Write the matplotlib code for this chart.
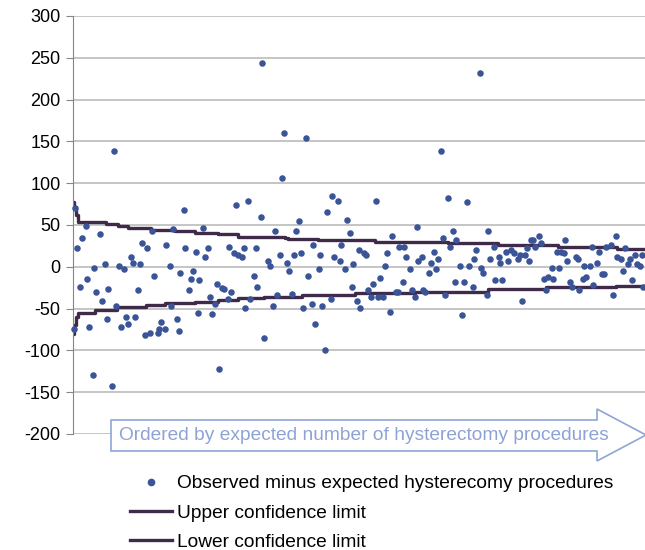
import matplotlib
matplotlib.use("Agg")
import matplotlib.pyplot as plt
from matplotlib.patches import Polygon
from matplotlib.lines import Line2D

plt.rcParams['font.family'] = ['Liberation Sans', 'DejaVu Sans']
plt.rcParams['axes.unicode_minus'] = False

# observed minus expected, by rank of expected number of procedures
obs_rank = [0.3, 0.8, 1.8, 3.3, 4.1, 5.8, 6.5, 7.3, 8.9, 9.7, 10.6, 12.1, 13, 14.5, 15.3, 16.1,
            17.6, 18.5, 19.4, 20.9, 21.7, 23.2, 24.1, 25, 26.4, 27.4, 28, 29.5, 30.5, 31.2, 32.7,
            33.6, 35.1, 35.9, 37, 38.5, 39.2, 40, 41.7, 42.3, 44.1, 44.7, 45.6, 47.1, 48, 48.8,
            50.3, 50.8,
            52.7, 53.5, 54.4, 55.9, 56.7, 57.4, 59.2, 59.8, 61.5, 62.3, 63, 64.7, 65.4, 66.2, 67.7,
            68.8, 70.3, 71, 72, 73.3, 74.2, 74.8, 76.7, 77.6, 78.2, 79.7, 80.6, 82.1, 83, 83.8,
            85.4, 86, 87, 88.6, 89.5, 90.9, 91.7, 92.6, 94.2, 94.8, 95.8, 97.3, 98.2, 99.7, 100.4,
            101.3, 102.9, 103.6, 104.4,
            106, 106.8, 108.5, 109.3, 110, 111.7, 112.4, 113.2, 114.7, 115.6, 117.3, 117.9, 118.8,
            120.3, 121.2, 122, 123.7, 124.4, 125.9, 126.7, 127.4, 129.1, 129.9, 130.6, 132.1,
            133.2, 134, 135.5, 136.2, 137.9, 138.7, 139.4, 141.1, 141.8, 142.7, 144.1, 145, 146.7,
            147.6, 148, 149.9, 150.6, 151.4, 153, 154, 155.3, 156.2, 156.8,
            158.6, 159.3, 160.2, 161.6, 162.5, 164, 164.8, 165.7, 167.2, 168.1, 168.9, 170.6,
            171.3, 172.8, 173.6, 174.3, 176, 176.8, 177.5, 179.2, 180.1, 181.6, 182.4, 183.1,
            184.8, 185.5, 186.3, 188, 188.7, 189.5, 191.2, 191.9, 193.7, 194.3, 195.1, 196.8,
            197.7, 199.2, 200.5, 202.2, 203.3, 203.9, 205.5, 206.2, 207.2, 208.4,
            208.9, 209.8, 211.8, 212.7, 214.1, 215, 215.7, 217.5, 218.3, 219.8, 220.7, 221.6,
            223.3, 223.8, 224.7, 226, 226.9, 228.5, 229.7, 230.1, 231.6, 232.2, 233, 235, 235.7,
            236.5, 238, 238.9, 240.4, 241.5, 242.4, 244.4, 245.4, 246.8, 247.4, 249.2, 250,
            250.9, 252.4, 253.3, 254.2, 255.4, 256.2, 257.8, 258.6, 259.2]
obs_value = [-75, 70, 22, -24, 34, 48.5, -14, -72, -129, -1, -30, 39, -41, 3, -62, -26,
             -142, 139, -47, 1, -72, -3, -60, -68, 11.5, 5, -60, -28, 3, 28, -81,
             22, -79, 43, -11, -79, -74, -66, -75, 26, 1, -47, 45, -62, -77, -7,
             68, 22,
             -28, -14, -5, 18, -55, -15.5, 47, 11.5, 22, -36, -57, -44, -20, -122, -25.5,
             -26, -39, 24, -30, 16, 74.5, 14, 12, 22, -49, 78.5, -39, -11.5, 22, -24,
             60, 244, -85, 7.5, 1, -47, 42.5, -34, 14, 106, 160, 5, -5, -32, 14,
             42.5, 55, 16, -49,
             154, -11.5, -44, 26, -68, -3, 14, -47, -100, 66, -38, 85, 12,
             79, 7.5, 26, -3, 56, 41, -24, 3, -41, 20, -49, 16,
             14, -28, -36, -20, 79, -36, -13.5, -36, 1, 16, -53.6, 37, -30,
             -30, 24, -18, 24, 12, -3, -28, -36, 48, 7.5,
             12, -28, -30, -7, 5, 18, -3, 9.7, 139, 35, -34, 82.7,
             24, 43, -18, 32, 1, -57.6, -18, 77, 1, -24, 9.7, 20,
             231.8, -1, -7, -34, 43, 9.7, 24, -15.5, 12, 5, -15.5, 18,
             7.5, 20, 16, 9.7, 14, -41, 14, 22, 7, 32,
             32, 24, 37, 28, -14, -28, -12, -1, -14, 18, -1, 18,
             16, 32, 7.5, -18, -24, 12, 9.7, -28, -14, 1, -12, 1, 24,
             -22, 5, 18, -9, -9, 24, 26, -34, 37, 12, 9.7, -5,
             22, 3, 9.7, -15.5, 14, 3, 1, 14, -24]

upper_rank = [0, 0.5, 1.2, 2.3, 9.8, 15, 20.5, 25, 35.6, 46.2, 55.4, 66, 75.1, 96.4, 97.9,
              111.5, 135.8, 137.3, 170.5, 193.3, 220.6, 247.1, 260]
upper_value = [78, 72, 62, 54, 53, 51, 49, 46, 44, 42.5, 41, 39, 36, 35, 33.5,
               32, 31.5, 29.5, 28, 26, 24, 21.5, 21.5]

lower_rank = [0, 0.5, 1.2, 2.3, 9.8, 20, 33, 42, 52, 55.4, 66, 75, 87, 104, 128, 150,
              155.4, 188.7, 215, 247, 260]
lower_value = [-80, -70, -60, -55, -52, -47.5, -45.7, -43.7, -43, -41.7, -39.7, -37.7, -35.7,
               -33.4, -31.8, -31, -29.8, -27, -24.6, -22.5, -22.5]

W, H = 645, 550
fig = plt.figure(figsize=(W / 100, H / 100), dpi=100)
ax = fig.add_axes([73 / W, 1 - 434 / H, 1 - 73 / W, (434 - 16) / H])

dot_color = '#3a5497'
line_color = '#3f2a4a'

ax.plot(upper_rank, upper_value, color=line_color, lw=2.4, drawstyle='steps-post', zorder=2)
ax.plot(lower_rank, lower_value, color=line_color, lw=2.4, drawstyle='steps-post', zorder=2)
ax.scatter(obs_rank, obs_value, s=22, color=dot_color, zorder=3, clip_on=False, linewidths=0)

ax.set_xlim(0, 260)
ax.set_ylim(-200, 300)
ax.set_yticks(range(-200, 301, 50))
ax.set_xticks([])
ax.yaxis.grid(True, color='#b5b5b5', lw=1.1)
ax.set_axisbelow(True)
for s in ['top', 'right', 'bottom']:
    ax.spines[s].set_visible(False)
ax.spines['left'].set_color('#868686')
ax.tick_params(axis='y', direction='out', length=5, color='#868686', labelsize=13, pad=4)

# arrow annotation under the plot
def fp(x, y):
    return (x / W, 1 - y / H)

arrow_pts = [fp(111, 420), fp(597, 420), fp(597, 409), fp(646, 435),
             fp(597, 461), fp(597, 451), fp(111, 451)]
arrow = Polygon(arrow_pts, closed=True, transform=fig.transFigure, facecolor='white',
                edgecolor='#8fa5d8', lw=1.2, zorder=5)
fig.patches.append(arrow)
fig.text(119 / W, 1 - 435 / H, 'Ordered by expected number of hysterectomy procedures',
         color='#8ea3d5', fontsize=13.8, va='center', ha='left', zorder=6)

handles = [Line2D([], [], ls='none', marker='o', ms=4.5, color=dot_color),
           Line2D([], [], color=line_color, lw=2.4),
           Line2D([], [], color=line_color, lw=2.4)]
labels = ['Observed minus expected hysterecomy procedures',
          'Upper confidence limit',
          'Lower confidence limit']
fig.legend(handles, labels, loc='upper left', bbox_to_anchor=(130 / W, 1 - 475 / H),
           frameon=False, fontsize=13.8, handlelength=2.2, handletextpad=0.26,
           labelspacing=0.62, borderpad=0, borderaxespad=0)

fig.savefig('out.png', dpi=100)
